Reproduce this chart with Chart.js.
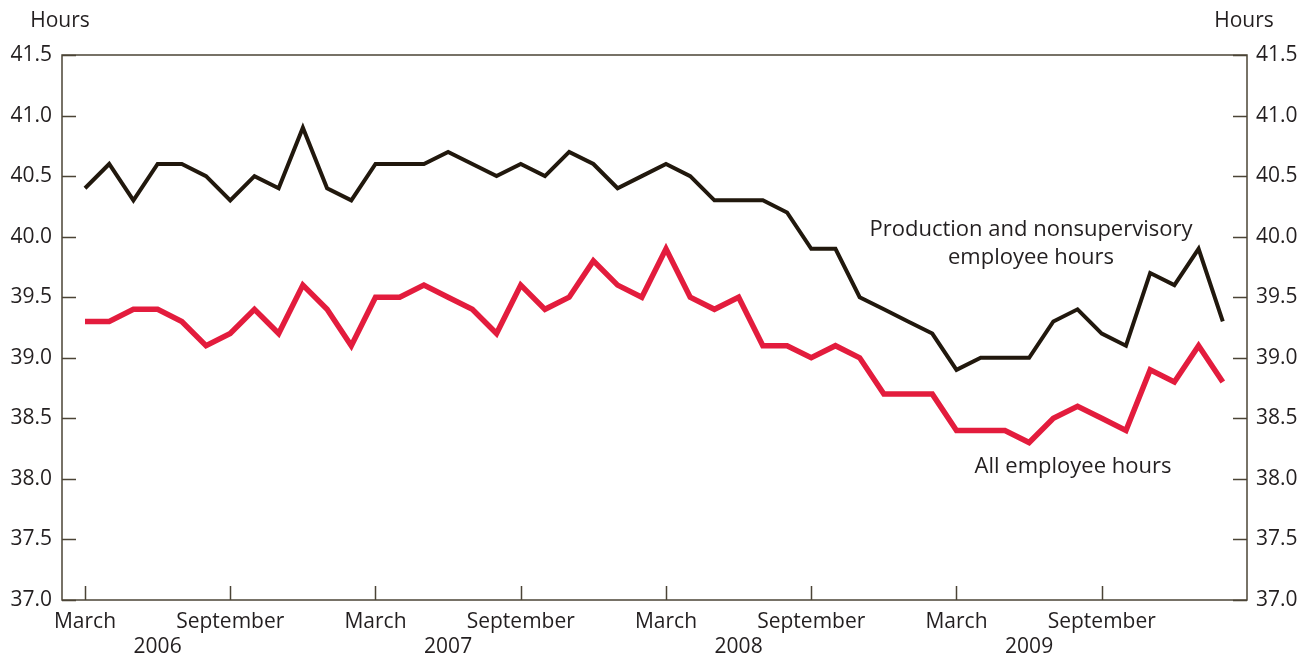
<!DOCTYPE html>
<html>
<head>
<meta charset="utf-8">
<script src="https://cdn.jsdelivr.net/npm/chart.js@4.4.1/dist/chart.umd.min.js"></script>
<style>
html,body{margin:0;padding:0;background:#fff;}
#wrap{width:1299px;height:658px;position:relative;}
</style>
</head>
<body>
<div id="wrap"><canvas id="c" width="1299" height="658"></canvas></div>
<script>
// Months: March 2006 .. February 2010 (index 0 = March 2006)
const months = ["Mar 2006","Apr 2006","May 2006","Jun 2006","Jul 2006","Aug 2006","Sep 2006","Oct 2006","Nov 2006","Dec 2006","Jan 2007","Feb 2007",
"Mar 2007","Apr 2007","May 2007","Jun 2007","Jul 2007","Aug 2007","Sep 2007","Oct 2007","Nov 2007","Dec 2007","Jan 2008","Feb 2008",
"Mar 2008","Apr 2008","May 2008","Jun 2008","Jul 2008","Aug 2008","Sep 2008","Oct 2008","Nov 2008","Dec 2008","Jan 2009","Feb 2009",
"Mar 2009","Apr 2009","May 2009","Jun 2009","Jul 2009","Aug 2009","Sep 2009","Oct 2009","Nov 2009","Dec 2009","Jan 2010","Feb 2010"];

const productionHours = [40.4,40.6,40.3,40.6,40.6,40.5,40.3,40.5,40.4,40.9,40.4,40.3,
40.6,40.6,40.6,40.7,40.6,40.5,40.6,40.5,40.7,40.6,40.4,40.5,
40.6,40.5,40.3,40.3,40.3,40.2,39.9,39.9,39.5,39.4,39.3,39.2,
38.9,39.0,39.0,39.0,39.3,39.4,39.2,39.1,39.7,39.6,39.9,39.3];

const allEmployeeHours = [39.3,39.3,39.4,39.4,39.3,39.1,39.2,39.4,39.2,39.6,39.4,39.1,
39.5,39.5,39.6,39.5,39.4,39.2,39.6,39.4,39.5,39.8,39.6,39.5,
39.9,39.5,39.4,39.5,39.1,39.1,39.0,39.1,39.0,38.7,38.7,38.7,
38.4,38.4,38.4,38.3,38.5,38.6,38.5,38.4,38.9,38.8,39.1,38.8];

const xTickMonths = [0,6,12,18,24,30,36,42];
const xTickLabels = ["March","September","March","September","March","September","March","September"];
const yearLabelMonths = [3,15,27,39];
const yearLabels = ["2006","2007","2008","2009"];
const yTicks = [37.0,37.5,38.0,38.5,39.0,39.5,40.0,40.5,41.0,41.5];

const FONT = "'Open Sans', 'Noto Sans', sans-serif";
const TEXT = '#231f20';
const AXIS = '#4b4436';

const xLabelMap = {};
xTickMonths.forEach((m,i)=>{ xLabelMap[m] = xTickLabels[i]; });
yearLabelMonths.forEach((m,i)=>{ xLabelMap[m] = ['', yearLabels[i]]; });
const xAllTicks = xTickMonths.concat(yearLabelMonths).sort((a,b)=>a-b);

const toXY = arr => arr.map((v,i)=>({x:i,y:v}));

const decor = {
  id:'decor',
  afterDraw(chart){
    const {ctx, chartArea:a, scales} = chart;
    ctx.save();
    ctx.strokeStyle = AXIS;
    ctx.lineWidth = 1.5;
    ctx.strokeRect(a.left, a.top, a.width, a.height);
    ctx.beginPath();
    yTicks.forEach(v=>{
      const y = Math.round(scales.y.getPixelForValue(v))+0.5;
      ctx.moveTo(a.left, y); ctx.lineTo(a.left+14, y);
      ctx.moveTo(a.right-14, y); ctx.lineTo(a.right, y);
    });
    xTickMonths.forEach(m=>{
      const x = Math.round(scales.x.getPixelForValue(m))+0.5;
      ctx.moveTo(x, a.bottom); ctx.lineTo(x, a.bottom-14);
    });
    ctx.stroke();

    ctx.fillStyle = TEXT;
    ctx.font = "21px " + FONT;
    ctx.textAlign = 'center';
    ctx.textBaseline = 'alphabetic';
    ctx.fillText('Hours', 60, 27);
    ctx.fillText('Hours', 1244, 27);

    ctx.font = "22px " + FONT;
    ctx.fillText('Production and nonsupervisory', 1031, 236);
    ctx.fillText('employee hours', 1031, 264);
    ctx.fillText('All employee hours', 1073, 473);
    ctx.restore();
  }
};

new Chart(document.getElementById('c'), {
  type:'line',
  data:{
    datasets:[
      {label:'Production and nonsupervisory employee hours', data:toXY(productionHours), borderColor:'#21180d', borderWidth:4, pointRadius:0, tension:0, borderJoinStyle:'miter', yAxisID:'y'},
      {label:'All employee hours', data:toXY(allEmployeeHours), borderColor:'#e31c3d', borderWidth:5.5, pointRadius:0, tension:0, borderJoinStyle:'miter', yAxisID:'y'}
    ]
  },
  options:{
    responsive:false,
    animation:false,
    layout:{padding:{top:55,left:0,right:0,bottom:0}},
    plugins:{legend:{display:false}, tooltip:{enabled:false}},
    scales:{
      x:{
        type:'linear', min:-0.95, max:48,
        grid:{display:false, drawTicks:false},
        border:{display:false},
        afterBuildTicks(scale){ scale.ticks = xAllTicks.map(v=>({value:v})); },
        afterFit(scale){ scale.height = 58; },
        ticks:{
          autoSkip:false, maxRotation:0, padding:9, color:TEXT,
          font:{family:FONT, size:21, lineHeight:1.2},
          callback:(v)=> xLabelMap[v] !== undefined ? xLabelMap[v] : ''
        }
      },
      y:{
        position:'left', min:37, max:41.5,
        grid:{display:false, drawTicks:false},
        border:{display:false},
        afterBuildTicks(scale){ scale.ticks = yTicks.map(v=>({value:v})); },
        afterFit(scale){ scale.width = 62; },
        ticks:{padding:10, color:TEXT, font:{family:FONT, size:21}, callback:v=>Number(v).toFixed(1)}
      },
      y2:{
        position:'right', min:37, max:41.5,
        grid:{display:false, drawTicks:false},
        border:{display:false},
        afterBuildTicks(scale){ scale.ticks = yTicks.map(v=>({value:v})); },
        afterFit(scale){ scale.width = 52; },
        ticks:{padding:9, color:TEXT, font:{family:FONT, size:21}, callback:v=>Number(v).toFixed(1)}
      }
    }
  },
  plugins:[decor]
});
</script>
</body>
</html>
